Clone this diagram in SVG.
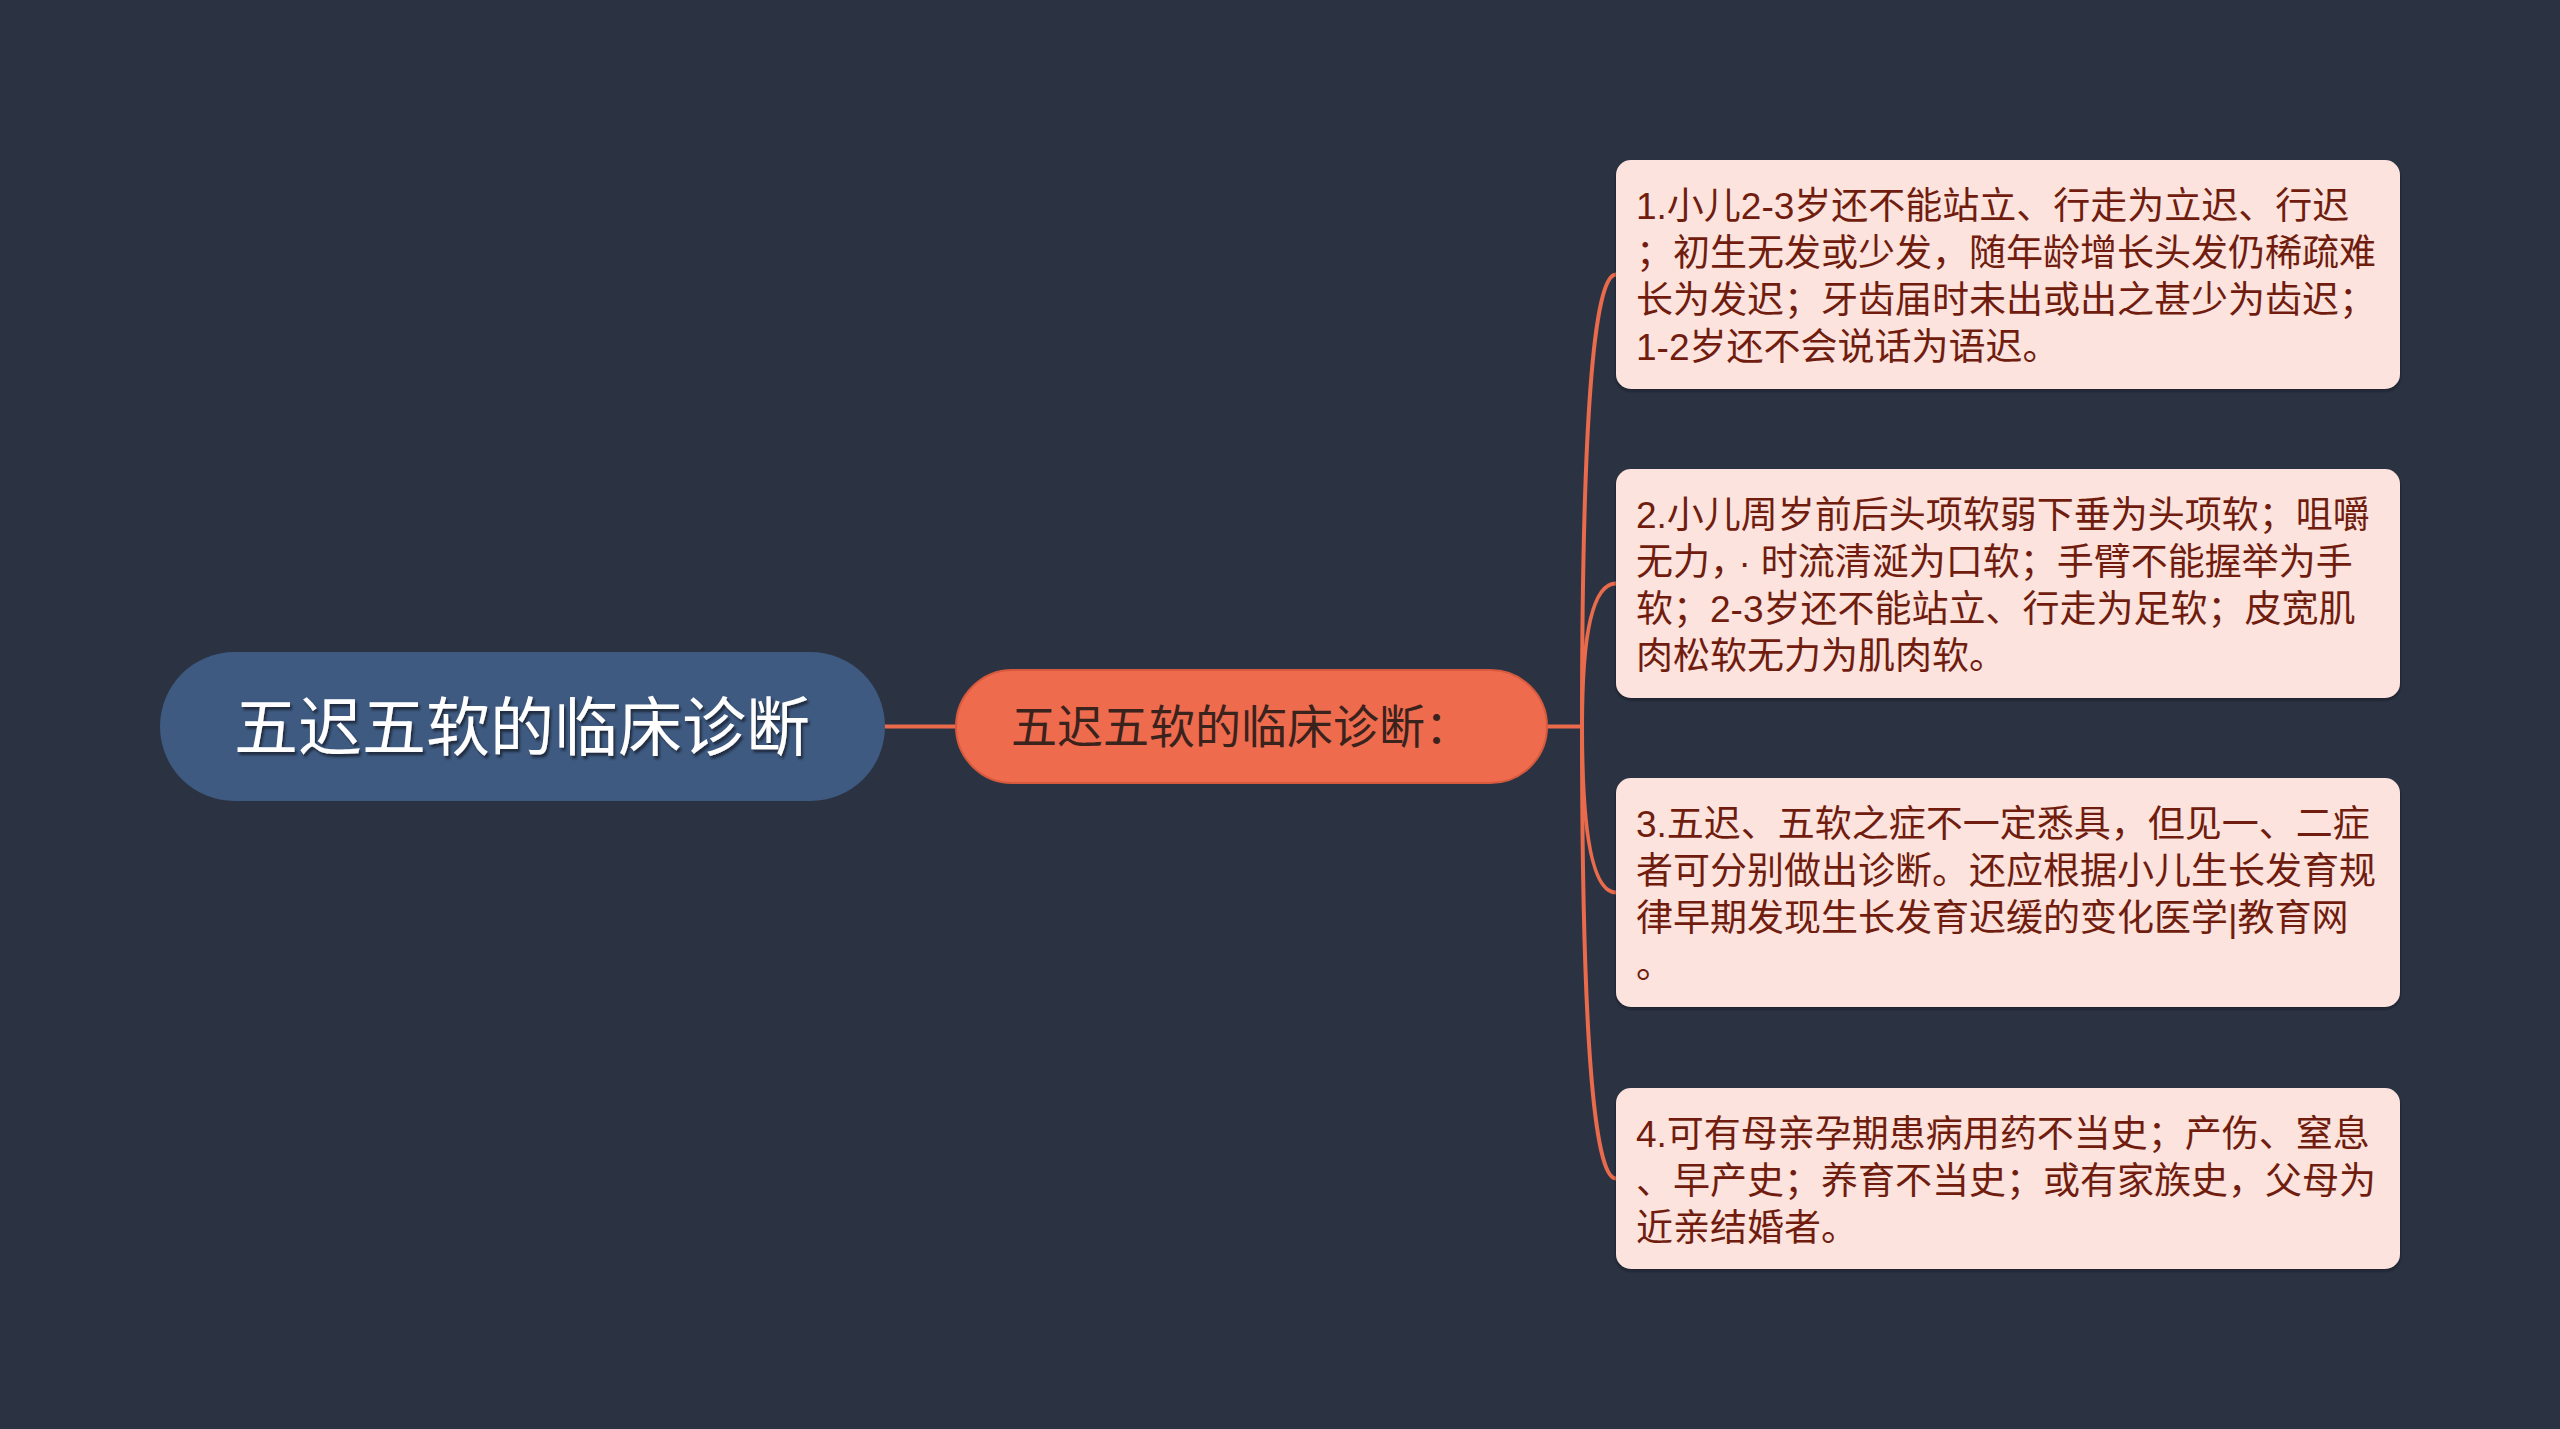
<svg xmlns="http://www.w3.org/2000/svg" width="2560" height="1429" viewBox="0 0 2560 1429">
<defs>
<style>
.bg{fill:#2b3342}
.conn{fill:none;stroke:#ea6a4c;stroke-width:4;stroke-linecap:round}
.root-shape{fill:#3e5a80}
.root-text{font-family:"Noto Sans CJK SC","Noto Sans",sans-serif;font-size:64px;fill:#ffffff}
.mid-shape{fill:#ee6b4d;stroke:#d75a3e;stroke-width:2}
.mid-text{font-family:"Noto Sans CJK SC","Noto Sans",sans-serif;font-size:46px;fill:#3a221d}
.leaf-shape{fill:#fce3dd}
.leaf-text{font-family:"Liberation Sans","Noto Sans CJK SC",sans-serif;font-size:37px;fill:#701d0f}
</style>
<filter id="tshadow" x="-10%" y="-20%" width="120%" height="150%">
<feDropShadow dx="2" dy="3" stdDeviation="1" flood-color="#1b2433" flood-opacity="0.8"/>
</filter>
<filter id="bshadow" x="-5%" y="-10%" width="110%" height="125%">
<feDropShadow dx="0" dy="2" stdDeviation="1.5" flood-color="#11161f" flood-opacity="0.6"/>
</filter>
</defs>
<rect class="bg" x="0" y="0" width="2560" height="1429"/>
<g id="connectors">
<path class="conn" d="M885,726.5 L956,726.5"/>
<path class="conn" d="M1547,726.5 L1582,726.5"/>
<path class="conn" d="M1582,726.5 Q1582,274.5 1616,274.5"/>
<path class="conn" d="M1582,726.5 Q1582,583.5 1616,583.5"/>
<path class="conn" d="M1582,726.5 Q1582,892.5 1616,892.5"/>
<path class="conn" d="M1582,726.5 Q1582,1178.5 1616,1178.5"/>
</g>
<g id="root">
<rect class="root-shape" x="160" y="652" width="725" height="149" rx="74.5" ry="74.5"/>
<text class="root-text" x="522" y="750" text-anchor="middle" filter="url(#tshadow)">五迟五软的临床诊断</text>
</g>
<g id="mid">
<rect class="mid-shape" x="956" y="670" width="591" height="113" rx="56.5" ry="56.5"/>
<text class="mid-text" x="1011" y="743">五迟五软的临床诊断：</text>
</g>
<g id="leaf1">
<rect class="leaf-shape" x="1616" y="160" width="784" height="229" rx="15" ry="15" filter="url(#bshadow)"/>
<text class="leaf-text"><tspan x="1636" y="219">1.小儿2-3岁还不能站立、行走为立迟、行迟</tspan><tspan x="1636" y="266">；初生无发或少发，随年龄增长头发仍稀疏难</tspan><tspan x="1636" y="313">长为发迟；牙齿届时未出或出之甚少为齿迟；</tspan><tspan x="1636" y="360">1-2岁还不会说话为语迟。</tspan></text>
</g>
<g id="leaf2">
<rect class="leaf-shape" x="1616" y="469" width="784" height="229" rx="15" ry="15" filter="url(#bshadow)"/>
<text class="leaf-text"><tspan x="1636" y="528">2.小儿周岁前后头项软弱下垂为头项软；咀嚼</tspan><tspan x="1636" y="575" dx="0 0 0 10 10">无力，·时流清涎为口软；手臂不能握举为手</tspan><tspan x="1636" y="622">软；2-3岁还不能站立、行走为足软；皮宽肌</tspan><tspan x="1636" y="669">肉松软无力为肌肉软。</tspan></text>
</g>
<g id="leaf3">
<rect class="leaf-shape" x="1616" y="778" width="784" height="229" rx="15" ry="15" filter="url(#bshadow)"/>
<text class="leaf-text"><tspan x="1636" y="837">3.五迟、五软之症不一定悉具，但见一、二症</tspan><tspan x="1636" y="884">者可分别做出诊断。还应根据小儿生长发育规</tspan><tspan x="1636" y="931">律早期发现生长发育迟缓的变化医学|教育网</tspan><tspan x="1636" y="978">。</tspan></text>
</g>
<g id="leaf4">
<rect class="leaf-shape" x="1616" y="1088" width="784" height="181" rx="15" ry="15" filter="url(#bshadow)"/>
<text class="leaf-text"><tspan x="1636" y="1147">4.可有母亲孕期患病用药不当史；产伤、窒息</tspan><tspan x="1636" y="1194">、早产史；养育不当史；或有家族史，父母为</tspan><tspan x="1636" y="1241">近亲结婚者。</tspan></text>
</g>
</svg>
